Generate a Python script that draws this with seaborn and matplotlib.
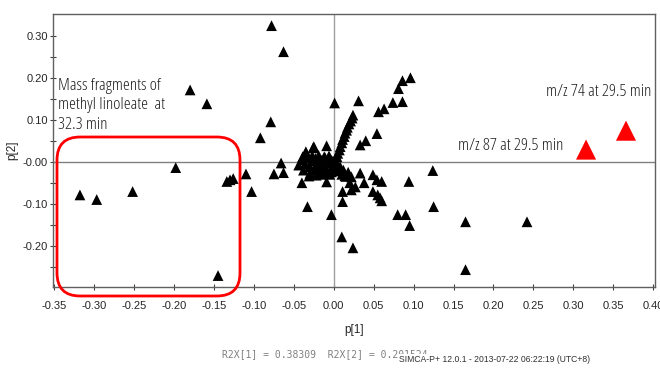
import numpy as np
import pandas as pd
import matplotlib
matplotlib.use("Agg")
import matplotlib.pyplot as plt
from matplotlib.patches import FancyBboxPatch
import seaborn as sns

# loadings p[1] / p[2]
p1_black = [-0.078, -0.063, -0.180, -0.159, -0.079, -0.092, -0.198,
            -0.318, -0.297, -0.252, -0.145, -0.134, -0.126, -0.130,
            -0.110, -0.103, -0.075, -0.063, -0.066, -0.040, -0.033, -0.009,
            -0.039, -0.026, -0.009, -0.035, -0.025, 0.001, 0.031,
            -0.040, -0.036, -0.033, -0.030, -0.028, -0.025, -0.023, -0.020, -0.018, -0.016,
            -0.013, -0.011, -0.009, -0.007, -0.005, -0.004, -0.002, 0.000, -0.038, -0.030,
            -0.022, -0.014, -0.044, 0.003, 0.006, 0.010, 0.015, 0.008,
            -0.034, -0.027, -0.019, -0.012, -0.006, -0.001, -0.031, -0.024, -0.017, -0.010,
            -0.003, 0.004, 0.012, 0.018,
            0.002, 0.004, 0.005, 0.007, 0.008, 0.010, 0.011, 0.013, 0.014, 0.016,
            0.017, 0.019, 0.021, 0.023, 0.024,
            0.033, 0.040, 0.054, 0.056, 0.063, 0.074, 0.086, 0.081, 0.086, 0.096,
            0.011, 0.011, 0.022, 0.022, 0.033, 0.038, 0.014, 0.049, 0.054, 0.060,
            0.049, 0.055, 0.060, 0.058, 0.094, 0.124, 0.125, 0.080, 0.090, 0.095,
            0.165, 0.242, 0.165, -0.003, 0.010, 0.024, 0.020, 0.027]
p2_black = [0.324, 0.262, 0.171, 0.138, 0.095, 0.057, -0.014,
            -0.079, -0.090, -0.071, -0.271, -0.047, -0.040, -0.043,
            -0.029, -0.071, -0.029, -0.026, -0.003, -0.050, -0.107, -0.048,
            0.012, 0.033, 0.038, 0.024, 0.036, 0.140, 0.145,
            0.005, -0.005, 0.010, -0.012, 0.002, -0.020, 0.008, -0.005, -0.025, 0.004,
            -0.012, 0.010, -0.020, -0.002, -0.030, 0.006, -0.010, -0.018, -0.020, -0.028,
            -0.032, -0.030, -0.008, -0.005, -0.022, -0.030, -0.035, -0.012,
            0.016, 0.014, 0.015, 0.012, 0.014, 0.002, -0.034, -0.015, -0.012, -0.026,
            -0.024, -0.016, -0.020, -0.025,
            0.004, 0.012, 0.020, 0.028, 0.036, 0.045, 0.053, 0.060, 0.068, 0.075,
            0.082, 0.090, 0.097, 0.104, 0.111,
            0.040, 0.050, 0.067, 0.119, 0.126, 0.141, 0.143, 0.174, 0.193, 0.200,
            -0.071, -0.095, -0.067, -0.036, -0.027, -0.050, -0.033, -0.031, -0.043, -0.047,
            -0.071, -0.079, -0.093, -0.086, -0.047, -0.021, -0.107, -0.126, -0.126, -0.152,
            -0.143, -0.143, -0.257, -0.126, -0.179, -0.205, -0.050, -0.060]
p1_red = [0.316, 0.366]
p2_red = [0.029, 0.074]

xticks = [-0.35, -0.30, -0.25, -0.20, -0.15, -0.10, -0.05, 0.00, 0.05, 0.10, 0.15, 0.20, 0.25, 0.30, 0.35, 0.40]
yticks = [0.30, 0.20, 0.10, 0.00, -0.10, -0.20]
ytick_labels = ["0.30", "0.20", "0.10", "-0.00", "-0.10", "-0.20"]

df = pd.DataFrame({"p1": p1_black, "p2": p2_black})
df_red = pd.DataFrame({"p1": p1_red, "p2": p2_red})

sns.set_style("white")
plt.rcParams["font.family"] = ["Liberation Sans", "DejaVu Sans"]

fig = plt.figure(figsize=(6.6, 3.76), dpi=100)
ax = fig.add_axes([0.080, 0.237, 0.912, 0.726])

ax.axhline(0, color="#808080", lw=1, zorder=1)
ax.axvline(0, color="#a0a0a0", lw=1, zorder=1)

sns.scatterplot(data=df, x="p1", y="p2", marker="^", color="black", s=60,
                edgecolor="none", ax=ax, zorder=3)
sns.scatterplot(data=df_red, x="p1", y="p2", marker="^", color="#ff0000", s=210,
                edgecolor="none", ax=ax, zorder=3)

ax.set_xlim(-0.352, 0.402)
ax.set_ylim(-0.298, 0.352)
ax.set_xticks(xticks)
ax.set_xticklabels([f"{t:.2f}" for t in xticks])
ax.set_yticks(yticks)
ax.set_yticklabels(ytick_labels)
ax.set_yticks([0.25, 0.15, 0.05, -0.05, -0.15, -0.25], minor=True)
ax.tick_params(axis="both", which="both", direction="inout", length=5, width=0.8,
               color="#404040", labelsize=8, pad=1, bottom=True, left=True)
ax.tick_params(axis="x", which="major", pad=8)
for sp in ax.spines.values():
    sp.set_color("#606060")
    sp.set_linewidth(1)

ax.set_xlabel("p[1]", fontsize=8.5, labelpad=9)
ax.set_ylabel("p[2]", fontsize=8.5, labelpad=3)

ann = dict(family=["Open Sans", "DejaVu Sans"], fontsize=12.5, color="#202020",
           fontstretch="condensed")
ax.text(-0.3455, 0.200, "Mass fragments of\nmethyl linoleate  at\n32.3 min",
        va="top", ha="left", linespacing=1.3, **ann)
ax.text(0.266, 0.167, "m/z 74 at 29.5 min", va="center", ha="left", **ann)
ax.text(0.155, 0.038, "m/z 87 at 29.5 min", va="center", ha="left", **ann)

# red rounded box round the methyl linoleate fragments (figure pixels)
W, H = 660, 376
box = FancyBboxPatch((57 / W, 1 - 296 / H), 183 / W, 159 / H,
                     boxstyle="round,pad=0,rounding_size=0.035",
                     transform=fig.transFigure, fill=False,
                     edgecolor="#ff0000", lw=2, clip_on=False, zorder=4,
                     mutation_aspect=W / H)
fig.patches.append(box)

fig.text(222 / W, 1 - 354 / H, "R2X[1] = 0.38309  R2X[2] = 0.201524",
         family="DejaVu Sans Mono", fontsize=7, color="#808080", va="center")
fig.text(399 / W, 1 - 359 / H, "SIMCA-P+ 12.0.1 - 2013-07-22 06:22:19 (UTC+8)",
         fontsize=6.2, color="#303030", va="center",
         bbox=dict(facecolor="white", edgecolor="none", pad=0.6))

fig.savefig("out.png", dpi=100)
